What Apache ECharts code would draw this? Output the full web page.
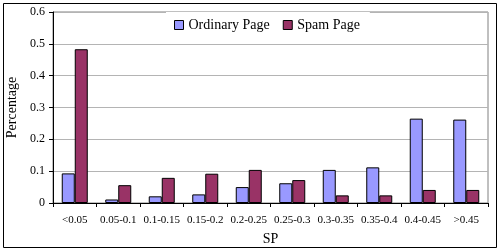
<!DOCTYPE html>
<html>
<head>
<meta charset="utf-8">
<script src="https://cdn.jsdelivr.net/npm/echarts@6/dist/echarts.min.js"></script>
<style>
    html, body { margin: 0; padding: 0; background: #fff; }
    #chart { width: 500px; height: 250px; }
</style>
</head>
<body>
<div id="chart"></div>
<script>
var categories = ["<0.05", "0.05-0.1", "0.1-0.15", "0.15-0.2", "0.2-0.25", "0.25-0.3", "0.3-0.35", "0.35-0.4", "0.4-0.45", ">0.45"];
var ordinaryPage = [0.093, 0.011, 0.021, 0.027, 0.05, 0.062, 0.104, 0.112, 0.265, 0.262];
var spamPage = [0.483, 0.056, 0.079, 0.092, 0.104, 0.072, 0.024, 0.024, 0.041, 0.041];

var font = "Liberation Serif";

var chart = echarts.init(document.getElementById("chart"));
chart.setOption({
    animation: false,
    textStyle: { fontFamily: font },
    graphic: [
        {
            type: "rect",
            shape: { x: 3.5, y: 3.5, width: 493, height: 244 },
            style: { fill: null, stroke: "#000", lineWidth: 1 },
            z: 0
        }
    ],
    grid: {
        left: 53,
        right: 12,
        top: 12,
        bottom: 47,
        outerBoundsMode: "none",
        show: true,
        borderColor: "#808080",
        borderWidth: 1
    },
    legend: {
        data: ["Ordinary Page", "Spam Page"],
        top: 12,
        left: 166,
        icon: "rect",
        itemWidth: 9,
        itemHeight: 9,
        itemGap: 13,
        padding: [6, 10, 6, 8],
        backgroundColor: "#fff",
        itemStyle: { borderColor: "#000", borderWidth: 1 },
        textStyle: { fontFamily: font, fontSize: 14, color: "#000" }
    },
    xAxis: {
        type: "category",
        data: categories,
        name: "SP",
        nameLocation: "middle",
        nameGap: 29,
        nameTextStyle: { fontFamily: font, fontSize: 14, color: "#000" },
        axisLine: { lineStyle: { color: "#000" } },
        axisTick: { show: true, length: 4, interval: 0, lineStyle: { color: "#000" } },
        axisLabel: { interval: 0, margin: 12, fontSize: 11, color: "#000", fontFamily: font }
    },
    yAxis: {
        type: "value",
        min: 0,
        max: 0.6,
        interval: 0.1,
        name: "Percentage",
        nameLocation: "middle",
        nameGap: 33,
        nameTextStyle: { fontFamily: font, fontSize: 14, color: "#000" },
        axisLine: { show: true, lineStyle: { color: "#000" } },
        axisTick: { show: true, length: 4, lineStyle: { color: "#000" } },
        axisLabel: { margin: 8, fontSize: 12, color: "#000", fontFamily: font },
        splitLine: { lineStyle: { color: "#b4b4b4" } }
    },
    series: [
        {
            name: "Ordinary Page",
            type: "bar",
            data: ordinaryPage,
            barWidth: 13,
            barGap: "0%",
            itemStyle: { color: "#9999ff", borderColor: "#000", borderWidth: 1 }
        },
        {
            name: "Spam Page",
            type: "bar",
            data: spamPage,
            barWidth: 13,
            barGap: "0%",
            itemStyle: { color: "#993366", borderColor: "#000", borderWidth: 1 }
        }
    ]
});
</script>
</body>
</html>
